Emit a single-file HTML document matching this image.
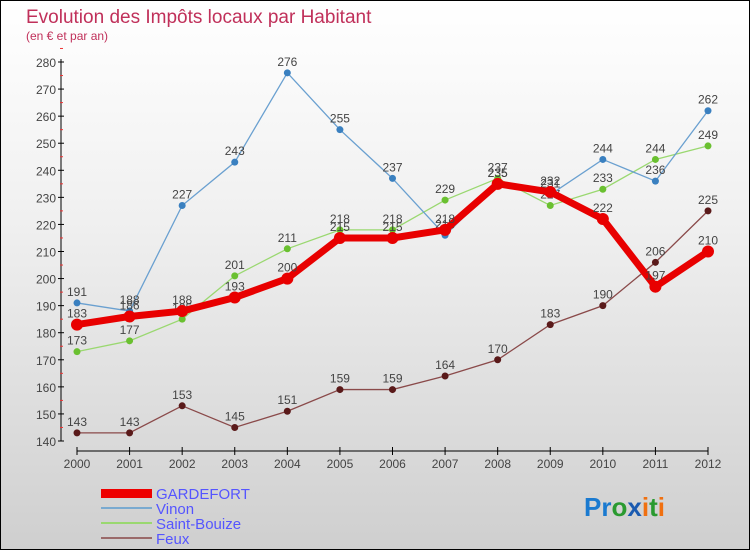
<!DOCTYPE html>
<html><head><meta charset="utf-8"><style>
body{margin:0}
#c{width:748px;height:548px;border:1px solid #000;background:linear-gradient(#fff,#f0f0f0 40%,#cfcfcf);position:relative;font-family:"Liberation Sans",sans-serif;overflow:hidden}
</style></head><body>
<div id="c">
<svg id="s" width="748" height="548" xmlns="http://www.w3.org/2000/svg">
<text x="25" y="22" font-size="19" fill="#c0305a">Evolution des Impôts locaux par Habitant</text>
<text x="25" y="39" font-size="12" fill="#c0305a">(en € et par an)</text>
<g id="axes"></g><g id="series"></g>
<g>
<rect x="100" y="488" width="51" height="9" fill="#e00"/>
<text x="155" y="498" font-size="15" fill="#55f">GARDEFORT</text>
<line x1="100" y1="507" x2="151" y2="507" stroke="#7aaad0" stroke-width="2"/>
<text x="155" y="513" font-size="15" fill="#55f">Vinon</text>
<line x1="100" y1="522" x2="151" y2="522" stroke="#9ad870" stroke-width="2"/>
<text x="155" y="528" font-size="15" fill="#55f">Saint-Bouize</text>
<line x1="100" y1="537" x2="151" y2="537" stroke="#9a6a6a" stroke-width="2"/>
<text x="155" y="543" font-size="15" fill="#55f">Feux</text>
</g>
<text x="583" y="515" font-size="26" font-weight="bold"><tspan fill="#1a7ad0">Pr</tspan><tspan fill="#2a9a30">o</tspan><tspan fill="#1a5ab0">x</tspan><tspan fill="#f07010">i</tspan><tspan fill="#2a9a30">t</tspan><tspan fill="#f07010">i</tspan></text>
</svg></div>
<script>
const years=["2000","2001","2002","2003","2004","2005","2006","2007","2008","2009","2010","2011","2012"];
const yTicks=[140,150,160,170,180,190,200,210,220,230,240,250,260,270,280];
const gardefort=[183,186,188,193,200,215,215,218,235,232,222,197,210];
const vinon=[191,188,227,243,276,255,237,216,235,231,244,236,262];
const saintBouize=[173,177,185,201,211,218,218,229,237,227,233,244,249];
const feux=[143,143,153,145,151,159,159,164,170,183,190,206,225];
const NS="http://www.w3.org/2000/svg";
const X=i=>76+i*(707-76)/12;
const Y=v=>440-(v-140)*(440-61)/140;
function mk(t,a,p){const e=document.createElementNS(NS,t);for(const k in a)e.setAttribute(k,a[k]);p.appendChild(e);return e;}
const ax=document.getElementById('axes');
let yl=mk('line',{x1:60,y1:58,x2:60,y2:440,stroke:'#000'},ax);


yTicks.forEach(v=>{
 mk('line',{x1:57,y1:Y(v),x2:63,y2:Y(v),stroke:'#000'},ax);
 mk('line',{x1:59,y1:Y(v+5),x2:62,y2:Y(v+5),stroke:'#e33'},ax);
 const t=mk('text',{x:55,y:Y(v)+5,'font-size':12,fill:'#444','text-anchor':'end'},ax);t.textContent=v;
 
 
});
let xl=mk('line',{x1:76,y1:450,x2:707,y2:450,stroke:'#000'},ax);


years.forEach((y,i)=>{
 mk('line',{x1:X(i),y1:446,x2:X(i),y2:454,stroke:'#000'},ax);
 const t=mk('text',{x:X(i),y:467,'font-size':12,fill:'#444','text-anchor':'middle'},ax);t.textContent=y;
 
 
});
const sg=document.getElementById('series');
function draw(data,name,col,dot,w,r){
 const g=mk('g',{},sg);
 
 
 mk('polyline',{points:data.map((v,i)=>X(i)+','+Y(v)).join(' '),fill:'none',stroke:col,'stroke-width':w},g);
 data.forEach((v,i)=>{
  const c=mk('circle',{cx:X(i),cy:Y(v),r:r,fill:dot},g);
  
  
  const t=mk('text',{x:X(i),y:Y(v)-7,'font-size':12,fill:'#444','text-anchor':'middle'},g);t.textContent=v;
  
  
 });
}
draw(feux,'feux','#8a4a4a','#5a1a1a',1.3,3.5);
draw(saintBouize,'saint-bouize','#9ad870','#6ac030',1.3,3.5);
draw(vinon,'vinon','#6aa0d0','#3a80c0',1.3,3.5);
draw(gardefort,'gardefort','#e80000','#e80000',7,6);
</script>
</body></html>
